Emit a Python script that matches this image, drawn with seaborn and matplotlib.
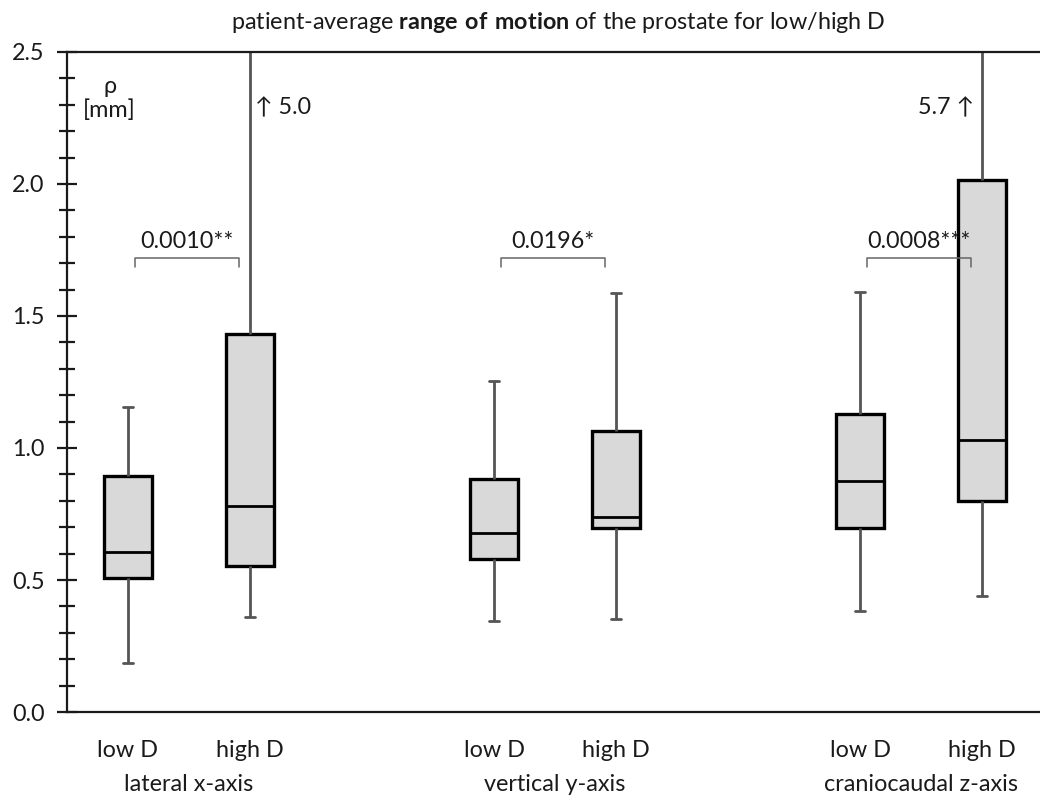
import numpy as np
import pandas as pd
import matplotlib
matplotlib.use("Agg")
import matplotlib.pyplot as plt
from matplotlib.ticker import MultipleLocator, FormatStrFormatter
import seaborn as sns

# Box statistics per group: lower whisker, Q1, median, Q3, upper whisker (mm)
box_labels = ["low D", "high D", "low D", "high D", "low D", "high D"]
box_positions = [0, 1, 3, 4, 6, 7]
whisker_low = [0.187, 0.360, 0.343, 0.352, 0.383, 0.441]
q1 = [0.506, 0.553, 0.578, 0.696, 0.696, 0.800]
median = [0.605, 0.780, 0.679, 0.740, 0.876, 1.031]
q3 = [0.894, 1.430, 0.884, 1.066, 1.129, 2.015]
whisker_high = [1.157, 5.0, 1.253, 1.588, 1.591, 5.7]

group_names = ["lateral x-axis", "vertical y-axis", "craniocaudal z-axis"]
p_values = ["0.0010**", "0.0196*", "0.0008***"]

# Five-point samples reproduce the quartiles exactly with linear percentiles
rows = []
for pos, lo, a, m, b, hi in zip(box_positions, whisker_low, q1, median, q3, whisker_high):
    for v in (lo, a, m, b, hi):
        rows.append({"pos": pos, "value": v})
df = pd.DataFrame(rows)

sns.set_theme(style="white")
plt.rcParams["font.family"] = ["Lato", "DejaVu Sans"]
plt.rcParams["mathtext.fontset"] = "custom"
plt.rcParams["mathtext.rm"] = "Lato"
plt.rcParams["mathtext.bf"] = "Lato:bold"

FS = 16.8
INK = "#1a1a1a"

fig = plt.figure(figsize=(10.4, 8.01), dpi=100)
ax = fig.add_axes([0.0644, 0.1111, 0.9356, 0.824])

sns.boxplot(
    data=df, x="pos", y="value", native_scale=True, ax=ax,
    width=0.4, whis=(0, 100), color="#d9d9d9", linecolor="black",
    linewidth=2.4, fliersize=0,
    whiskerprops=dict(color="#555555", linewidth=2.0),
    capprops=dict(color="#555555", linewidth=2.0),
    medianprops=dict(color="black", linewidth=2.0),
    capwidths=0.08,
)

ax.set_xlim(-0.5, 7.475)
ax.set_ylim(0, 2.5)

# y axis: major ticks every 0.5, minor every 0.1, crossing the spine
ax.yaxis.set_major_locator(MultipleLocator(0.5))
ax.yaxis.set_minor_locator(MultipleLocator(0.1))
ax.yaxis.set_major_formatter(FormatStrFormatter("%.1f"))
ax.tick_params(axis="y", which="major", direction="inout", length=14, width=1.6,
               left=True, labelsize=FS, pad=9, colors=INK)
ax.tick_params(axis="y", which="minor", direction="inout", length=12, width=1.6,
               left=True, colors=INK)
ax.tick_params(axis="x", length=0, pad=20, labelsize=FS, colors=INK)
ax.set_xticks(box_positions)
ax.set_xticklabels(box_labels)
ax.set_xlabel("")
ax.set_ylabel("")

for side in ["left", "bottom", "top"]:
    ax.spines[side].set_visible(True)
    ax.spines[side].set_color(INK)
    ax.spines[side].set_linewidth(1.6)
ax.spines["right"].set_visible(False)

# Group names under the tick labels
for i, name in enumerate(group_names):
    gx = (box_positions[2 * i] + box_positions[2 * i + 1]) / 2
    ax.text(gx, -0.11, name, transform=ax.get_xaxis_transform(), ha="center",
            va="center", fontsize=FS, color=INK)

# Significance brackets with p-values
by, dh = 1.718, 0.032
for i, p in enumerate(p_values):
    x0 = box_positions[2 * i] + 0.06
    x1 = box_positions[2 * i + 1] - 0.09
    ax.plot([x0, x0, x1, x1], [by - dh, by, by, by - dh], color="#666666",
            lw=1.1, solid_joinstyle="round")
    ax.text((x0 + x1) / 2, by + 0.025, p, ha="center", va="bottom",
            fontsize=FS, color=INK)

# Off-scale maxima
ax.text(box_positions[1] + 0.04, 2.29, "\u2191 %.1f" % whisker_high[1],
        ha="left", va="center", fontsize=FS, color=INK)
ax.text(box_positions[5] - 0.07, 2.29, "%.1f \u2191" % whisker_high[5],
        ha="right", va="center", fontsize=FS, color=INK)

# Unit label
ax.text(-0.15, 2.325, "\u03c1\n[mm]", ha="center", va="center", fontsize=FS,
        color=INK, linespacing=1.15)

fig.text(0.537, 0.972,
         r"patient-average $\bf{range\ of\ motion}$ of the prostate for low/high D",
         ha="center", va="center", fontsize=FS, color=INK)

fig.savefig("out.png", dpi=100)
